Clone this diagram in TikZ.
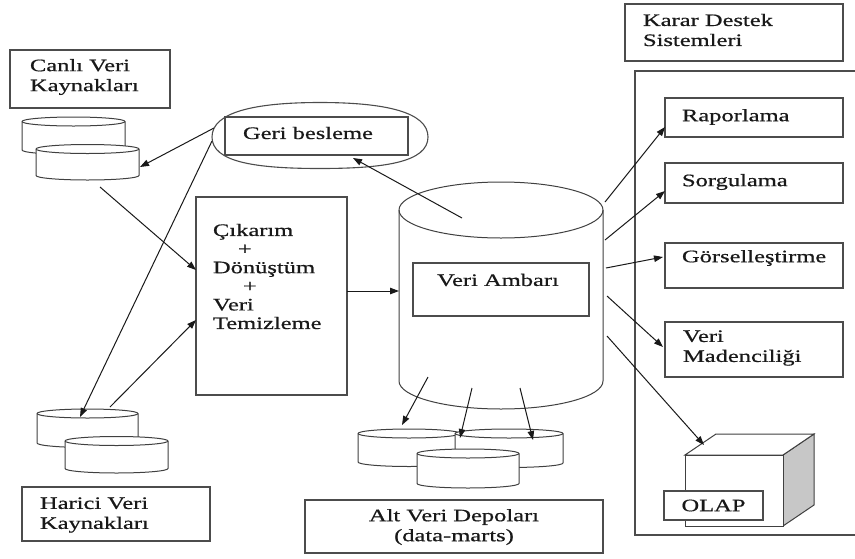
\documentclass[tikz,border=0pt]{standalone}
\usepackage{fontspec}
\setmainfont{Liberation Serif}[FakeStretch=1.4,FakeBold=0.6]
\usetikzlibrary{arrows.meta}

% database drum: name, centre x, top-ellipse y, bottom-ellipse y, x radius, y radius
\newcommand\dbdrum[6]{%
  \path[drum] (#2-#5,#3) -- (#2-#5,#4)
    arc[start angle=180,end angle=360,x radius=#5pt,y radius=#6pt]
    -- (#2+#5,#3)
    arc[start angle=0,end angle=180,x radius=#5pt,y radius=#6pt] -- cycle;
  \draw[drumline] (#2-#5,#3) arc[start angle=180,end angle=360,x radius=#5pt,y radius=#6pt];
  \node[inner sep=0pt,outer sep=0pt,minimum width={2*#5pt},
        minimum height={(#4-#3+2*#6)*1pt}] (#1) at (#2,{(#3+#4)/2}) {};
}

\tikzset{
  frame/.style={draw=black!70,line width=1.1pt,fill=white,inner sep=0pt,outer sep=0pt},
  drum/.style={draw=black!75,line width=1pt,fill=white},
  drumline/.style={draw=black!75,line width=1pt},
  lbl/.style={inner sep=0pt,outer sep=0pt,text=black!90,align=left,
              font=\fontsize{17.5}{20}\selectfont},
  link/.style={line width=1pt,draw=black!90,-{Triangle[length=9pt,width=6.5pt]}},
}

\begin{document}
\begin{tikzpicture}[x=1pt,y=-1pt]
\useasboundingbox (0,0) rectangle (855,558);

% ---- live data sources ----
\node[frame,minimum width=160pt,minimum height=58pt] (canli) at (90,79) {};
\node[lbl,anchor=west] (canliT) at (30,77) {Canlı Veri\\Kaynakları};
\dbdrum{cb}{73.5}{121.5}{150}{51.5}{4.5}
\dbdrum{cf}{87.5}{149}{175.5}{51.5}{4.5}

% ---- external data sources ----
\dbdrum{hb}{87.5}{413.5}{443}{50.5}{4.5}
\dbdrum{hf}{116.5}{441}{468.5}{51.5}{4.5}
\node[frame,minimum width=188pt,minimum height=54pt] (harici) at (116,514) {};
\node[lbl,anchor=west] (hariciT) at (40,515) {Harici Veri\\Kaynakları};

% ---- feedback: rounded oval behind the label box ----
\path[draw=black!70,line width=1.1pt,fill=white]
  (212,137) .. controls (212,112) and (255,102.5) .. (320,102.5)
            .. controls (385,102.5) and (428,112) .. (428,137)
            .. controls (428,162) and (385,168.5) .. (320,168.5)
            .. controls (255,168.5) and (212,162) .. (212,137) -- cycle;
\node[inner sep=0pt,outer sep=0pt,minimum width=216pt,minimum height=66pt] (fb) at (320,135.5) {};
\node[frame,minimum width=183pt,minimum height=38pt] (geri) at (316.5,136) {};
\node[lbl,anchor=west] (geriT) at (243,133) {Geri besleme};

% ---- extraction / transformation / cleaning ----
\node[frame,minimum width=151pt,minimum height=198pt] (etl) at (271.5,296) {};
\node[lbl,anchor=west,font=\fontsize{17.5}{18.6}\selectfont] (etlT) at (213,276.5)
  {Çıkarım\\\hspace*{25pt}+\\Dönüştüm\\\hspace*{30pt}+\\Veri\\Temizleme};

% ---- data warehouse ----
\dbdrum{dw}{501}{210}{381}{102}{28}
\node[frame,minimum width=176pt,minimum height=53pt] (amb) at (501,289.5) {};
\node[lbl,anchor=center] (ambT) at (498,280) {Veri Ambarı};

% ---- data marts ----
\dbdrum{dml}{409}{433.5}{462}{51}{4.5}
\dbdrum{dmr}{509}{433.5}{463}{54}{4.5}
\dbdrum{dmf}{468}{453.5}{483.5}{51}{4.5}
\node[frame,minimum width=298pt,minimum height=53pt] (alt) at (454,526.5) {};
\node[lbl,align=center,anchor=center] (altT) at (454,527) {Alt Veri Depoları\\(data-marts)};

% ---- decision support systems ----
\node[frame,minimum width=218pt,minimum height=57pt] (kds) at (734,32.5) {};
\node[lbl,anchor=west] (kdsT) at (643,30) {Karar Destek\\Sistemleri};
\draw[draw=black!70,line width=1.1pt] (855,71) -- (635,71) -- (635,535) -- (855,535);

\node[frame,minimum width=178pt,minimum height=39pt] (rap) at (754,117.5) {};
\node[lbl,anchor=west] (rapT) at (682,117) {Raporlama};
\node[frame,minimum width=178pt,minimum height=40pt] (sor) at (754,183) {};
\node[lbl,anchor=west] (sorT) at (682,182) {Sorgulama};
\node[frame,minimum width=178pt,minimum height=45pt] (gor) at (754,265.5) {};
\node[lbl,anchor=west] (gorT) at (682,258) {Görselleştirme};
\node[frame,minimum width=178pt,minimum height=55pt] (mad) at (754,349.5) {};
\node[lbl,anchor=west] (madT) at (683,348) {Veri\\Madenciliği};

% ---- OLAP cube ----
\path[draw=black!75,line width=1pt,fill=black!22] (783,455) -- (814,434) -- (814,505) -- (783,526) -- cycle;
\path[draw=black!75,line width=1pt,fill=white] (685,455) -- (716,434) -- (814,434) -- (783,455) -- cycle;
\node[frame,draw=black!75,line width=1pt,minimum width=98pt,minimum height=71pt] (cube) at (734,490.5) {};
\node[frame,minimum width=99pt,minimum height=29pt,font=\fontsize{17.5}{20}\selectfont,text=black!90] (olap) at (713.5,505.5) {OLAP};

% ---- connectors ----
\draw[link] ([shift={(-106,-7.5)}]fb.center) -- ([shift={(52.5,4.75)}]cf.center);
\draw[link] ([shift={(-108,5.5)}]fb.center) -- ([shift={(-7.5,-11.25)}]hb.center);
\draw[link] ([shift={(12.5,24.75)}]cf.center) -- ([shift={(-75.5,-26)}]etl.center);
\draw[link] ([shift={(22.5,-21.25)}]hb.center) -- ([shift={(-75.5,24)}]etl.center);
\draw[link] ([shift={(75.5,-5)}]etl.center) -- ([shift={(-102,-4.5)}]dw.center);
\draw[link] ([shift={(-39,-77.5)}]dw.center) -- ([shift={(33,22.5)}]fb.center);

\draw[link] ([shift={(-73,81.5)}]dw.center) -- ([shift={(-7,-22.75)}]dml.center);
\draw[link] ([shift={(-29,92.5)}]dw.center) -- ([shift={(-8,-30.5)}]dmf.center);
\draw[link] ([shift={(19,92.5)}]dw.center) -- ([shift={(24,-8.25)}]dmr.center);

\draw[link] ([shift={(104,-93.5)}]dw.center) -- ([shift={(-89,9.5)}]rap.center);
\draw[link] ([shift={(104,-55.5)}]dw.center) -- ([shift={(-89,8)}]sor.center);
\draw[link] ([shift={(105,-27.5)}]dw.center) -- ([shift={(-91,-8.5)}]gor.center);
\draw[link] ([shift={(106,0.5)}]dw.center) -- ([shift={(-91,-2.5)}]mad.center);
\draw[link] ([shift={(106,40.5)}]dw.center) -- ([shift={(-30,-45.5)}]cube.center);
\end{tikzpicture}
\end{document}
